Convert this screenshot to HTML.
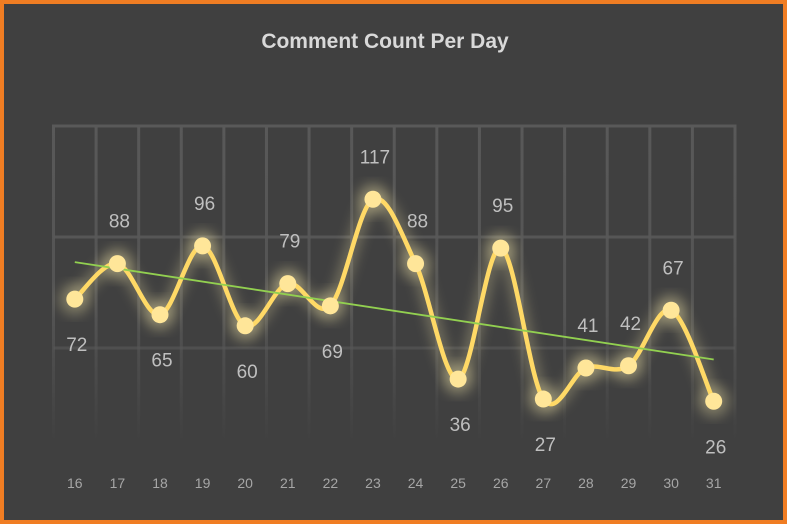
<!DOCTYPE html>
<html><head><meta charset="utf-8"><style>
html,body{margin:0;padding:0;background:#404040;}
svg{display:block;font-family:"Liberation Sans",sans-serif;}
</style></head><body>
<svg width="787" height="524" viewBox="0 0 787 524">
<defs>
<linearGradient id="fade" x1="0" y1="0" x2="0" y2="1">
<stop offset="0" stop-color="#595959"/><stop offset="0.6" stop-color="#535353"/><stop offset="1" stop-color="#404040"/>
</linearGradient>
<filter id="glow" x="-20%" y="-20%" width="140%" height="140%">
<feGaussianBlur stdDeviation="6"/>
</filter>
</defs>
<rect x="2" y="2" width="783" height="520" fill="#404040" stroke="#f07d23" stroke-width="4"/>
<text x="385" y="48" text-anchor="middle" font-size="21" font-weight="bold" fill="#d9d9d9">Comment Count Per Day</text>
<g id="grid"></g>
<g id="series"></g>
<g id="labels"></g>
</svg>
<script>
const categories=[16,17,18,19,20,21,22,23,24,25,26,27,28,29,30,31];
const values=[72,88,65,96,60,79,69,117,88,36,95,27,41,42,67,26];
const labelSide=["below","above","below","above","below","above","below","above","above","below","above","below","above","above","above","below"];
const yTicks=[50,100,150];
const NS="http://www.w3.org/2000/svg";
const left=53.5,right=735,y0=459,k=2.22;
const step=(right-left)/categories.length;
const xs=i=>left+step*(i+0.5);
const ys=v=>y0-v*k;
function mk(t,a,p){const e=document.createElementNS(NS,t);for(const n in a)e.setAttribute(n,a[n]);p.appendChild(e);return e;}
const grid=document.getElementById('grid'),ser=document.getElementById('series'),lab=document.getElementById('labels');
for(let i=0;i<=categories.length;i++){
 const x=left+step*i;
 const l=mk('rect',{x:x-1.5,y:ys(150)-1.5,width:3,height:ys(0)-ys(150)-15,fill:'url(#fade)'},grid);
 
 
}
yTicks.forEach(v=>{
 const op=v===150?1:(v===100?0.9:0.6);
 const l=mk('line',{x1:left,x2:right,y1:ys(v),y2:ys(v),stroke:'#595959','stroke-width':3,opacity:op},grid);
 
 
});
categories.forEach((c,i)=>{
 const t=mk('text',{x:xs(i),y:488,'text-anchor':'middle','font-size':14,fill:'#a6a6a6'},lab);
 t.textContent=c;
 
 
});
// smooth path
const pts=values.map((v,i)=>[xs(i),ys(v)]);
let d=`M${pts[0][0]},${pts[0][1]}`;
for(let i=0;i<pts.length-1;i++){
 const p0=pts[Math.max(0,i-1)],p1=pts[i],p2=pts[i+1],p3=pts[Math.min(pts.length-1,i+2)];
 const t=1/6;
 d+=` C${p1[0]+(p2[0]-p0[0])*t},${p1[1]+(p2[1]-p0[1])*t} ${p2[0]-(p3[0]-p1[0])*t},${p2[1]-(p3[1]-p1[1])*t} ${p2[0]},${p2[1]}`;
}
const g1=mk('path',{d:d,fill:'none',stroke:'#fff2b0','stroke-width':14,opacity:0.25,filter:'url(#glow)'},ser);


pts.forEach(p=>{const g=mk('circle',{cx:p[0],cy:p[1],r:16,fill:'#fff2b0',opacity:0.3,filter:'url(#glow)'},ser);
 
 });
const ln=mk('path',{d:d,fill:'none',stroke:'#ffd966','stroke-width':4.5},ser);


// trendline
const n=values.length;let sx=0,sy=0,sxy=0,sxx=0;
values.forEach((v,i)=>{sx+=i;sy+=v;sxy+=i*v;sxx+=i*i;});
const b=(n*sxy-sx*sy)/(n*sxx-sx*sx),a=(sy-b*sx)/n;
const tr=mk('line',{x1:xs(0),y1:ys(a),x2:xs(n-1),y2:ys(a+b*(n-1)),stroke:'#92d050','stroke-width':1.8},ser);


pts.forEach((p,i)=>{
 const c=mk('circle',{cx:p[0],cy:p[1],r:8.5,fill:'#ffe699'},ser);
 
 
 const ty=labelSide[i]==='above'?p[1]-36:p[1]+52;
 const t=mk('text',{x:p[0]+2,y:ty,'text-anchor':'middle','font-size':19,fill:'#bfbfbf'},lab);
 t.textContent=values[i];
 
 
});
</script>
</body></html>
